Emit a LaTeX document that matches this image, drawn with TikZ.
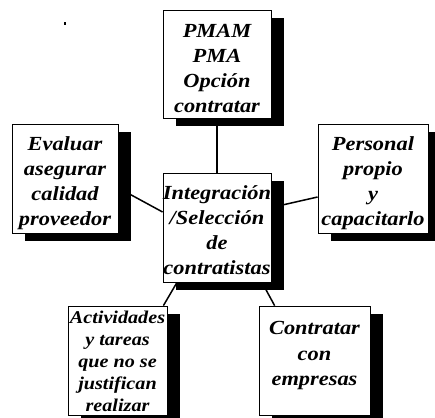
\documentclass[tikz,border=0pt]{standalone}
\usepackage{fontspec}
\setmainfont{Liberation Serif}
\newfontfamily\boxfont[FakeStretch=1.12]{Liberation Serif}
\usetikzlibrary{shadows,backgrounds,calc}
\tikzset{
  box/.style={draw=black, line width=0.8bp, fill=white, inner sep=0pt,
    drop shadow={shadow xshift=13bp, shadow yshift=-8bp, fill=black, opacity=1}},
  txt/.style={align=center, inner sep=0pt,
    font=\boxfont\bfseries\itshape\fontsize{20bp}{25bp}\selectfont},
  smalltxt/.style={txt, font=\boxfont\bfseries\itshape\fontsize{18bp}{22bp}\selectfont},
  link/.style={line width=1.5bp, draw=black}
}
\begin{document}
\begin{tikzpicture}[x=1bp,y=1bp]
\useasboundingbox (0,0) rectangle (435,417);
\node[box, minimum width=108bp, minimum height=108bp] (top) at (217,353) {};
\node[box, minimum width=106bp, minimum height=109bp] (eval) at (65,238.5) {};
\node[box, minimum width=108bp, minimum height=109bp] (center) at (217,189.5) {};
\node[box, minimum width=110bp, minimum height=109bp] (pers) at (373,238.5) {};
\node[box, minimum width=99bp, minimum height=109bp] (act) at (117.5,56.5) {};
\node[box, minimum width=111bp, minimum height=109bp] (contr) at (314.5,56.5) {};
\node[txt] (topt) at ([yshift=-4.5bp]top.center) {PMAM\\PMA\\Opción\\contratar};
\node[txt] (evalt) at ([yshift=-4.5bp]eval.center) {Evaluar\\asegurar\\calidad\\proveedor};
\node[txt] (centert) at ([yshift=-3bp]center.center) {Integración\\/Selección\\de\\contratistas};
\node[txt] (perst) at ([yshift=-4.5bp]pers.center) {Personal\\propio\\y\\capacitarlo};
\node[smalltxt] (actt) at ([yshift=-1bp]act.center) {Actividades\\y tareas\\que no se\\justifican\\realizar};
\node[txt] (contrt) at ([yshift=5bp]contr.center) {Contratar\\con\\empresas};
\fill (64,392) rectangle (66,395);
\begin{scope}[on background layer]
\draw[link] (top.south) -- (center.north);
\draw[link] ([yshift=-9.5bp]eval.east) -- ([yshift=15.5bp]center.west);
\draw[link] ([yshift=20bp]center.east) -- ([yshift=-18.5bp]pers.west);
\draw[link] ([xshift=-40bp]center.south) -- ([xshift=-4bp]act.north east);
\draw[link] ([xshift=45bp]center.south) -- ([xshift=16bp]contr.north west);
\end{scope}
\end{tikzpicture}
\end{document}
